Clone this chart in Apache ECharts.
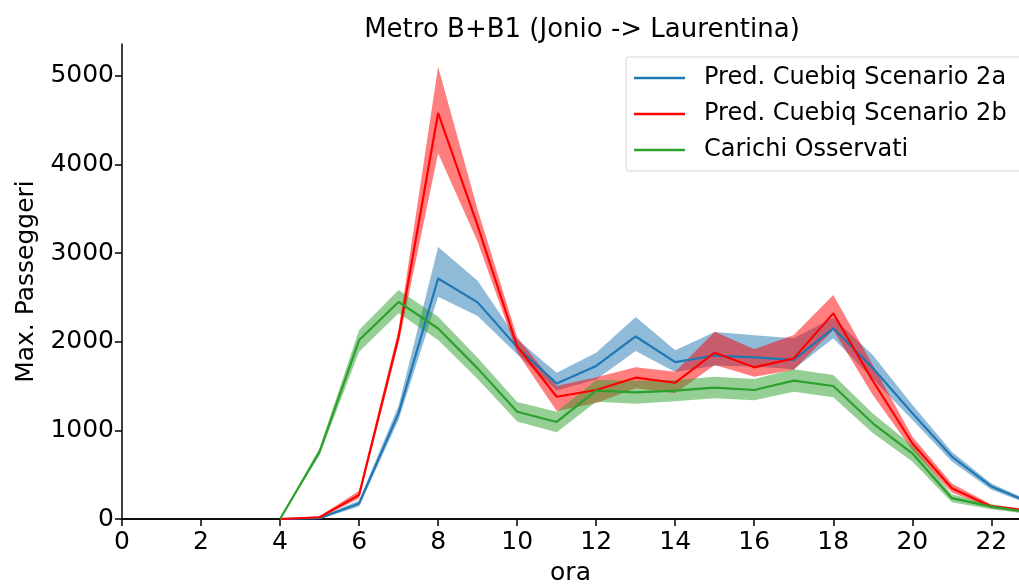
<!DOCTYPE html>
<html>
<head>
<meta charset="utf-8">
<script src="https://cdn.jsdelivr.net/npm/echarts@6/dist/echarts.min.js"></script>
<style>
  html, body { margin: 0; padding: 0; background: #fff; }
  #chart { width: 1019px; height: 584px; }
</style>
</head>
<body>
<div id="chart"></div>
<script>
const hours = [4, 5, 6, 7, 8, 9, 10, 11, 12, 13, 14, 15, 16, 17, 18, 19, 20, 21, 22, 23];

const blueMean = [0, 10, 175, 1195, 2715, 2445, 1940, 1528, 1727, 2060, 1770, 1845, 1825, 1795, 2152, 1705, 1195, 705, 368, 180];
const blueLow = [0, 0, 140, 1120, 2509, 2290, 1860, 1450, 1575, 1895, 1660, 1730, 1720, 1690, 2040, 1580, 1120, 650, 330, 160];
const blueHigh = [0, 20, 210, 1280, 3070, 2690, 2030, 1650, 1875, 2280, 1905, 2110, 2075, 2040, 2270, 1850, 1290, 760, 400, 200];

const redMean = [0, 20, 271, 2060, 4582, 3310, 1950, 1380, 1456, 1595, 1538, 1877, 1712, 1813, 2321, 1560, 855, 348, 142, 90];
const redLow = [0, 10, 230, 1980, 4128, 3130, 1880, 1220, 1310, 1475, 1418, 1738, 1606, 1682, 2133, 1400, 780, 300, 120, 75];
const redHigh = [0, 30, 320, 2140, 5105, 3490, 2050, 1500, 1600, 1712, 1663, 2114, 1915, 2077, 2528, 1738, 930, 400, 165, 105];

const greenMean = [0, 760, 2020, 2450, 2150, 1700, 1211, 1095, 1448, 1430, 1448, 1482, 1456, 1561, 1501, 1080, 741, 235, 139, 70];
const greenLow = [0, 720, 1888, 2322, 2020, 1580, 1100, 980, 1324, 1300, 1330, 1362, 1340, 1437, 1373, 970, 650, 190, 110, 55];
const greenHigh = [0, 800, 2133, 2585, 2283, 1820, 1320, 1210, 1569, 1560, 1570, 1606, 1580, 1690, 1625, 1190, 830, 280, 165, 90];

const xTicks = [0, 2, 4, 6, 8, 10, 12, 14, 16, 18, 20, 22];
const yTicks = [0, 1000, 2000, 3000, 4000, 5000];

const names = ["Pred. Cuebiq Scenario 2a", "Pred. Cuebiq Scenario 2b", "Carichi Osservati"];
const colors = ["#1f77b4", "#ff0000", "#2ca02c"];
const FONT = "DejaVu Sans";

const chart = echarts.init(document.getElementById("chart"), null, { renderer: "canvas" });

function bandSeries(low, high, color) {
  return {
    type: "custom",
    silent: true,
    clip: true,
    data: hours.map((h, i) => [h, low[i], high[i]]),
    encode: { x: 0, y: [1, 2] },
    renderItem: (params, api) => {
      if (params.dataIndex !== 0) {
        return null;
      }
      const top = hours.map((h, i) => api.coord([h, high[i]]));
      const bottom = hours.map((h, i) => api.coord([h, low[i]])).reverse();
      return {
        type: "polygon",
        shape: { points: top.concat(bottom) },
        style: { fill: color, opacity: 0.5 },
      };
    },
  };
}

function lineSeries(name, mean, color) {
  return {
    name: name,
    type: "line",
    data: hours.map((h, i) => [h, mean[i]]),
    showSymbol: false,
    clip: true,
    lineStyle: { color: color, width: 2.2 },
    itemStyle: { color: color },
  };
}

chart.setOption({
  animation: false,
  title: {
    text: "Metro B+B1 (Jonio -> Laurentina)",
    left: 577,
    top: 12,
    textAlign: "center",
    textStyle: { fontFamily: FONT, fontSize: 26, fontWeight: "normal", color: "#000" },
  },
  legend: {
    orient: "vertical",
    left: 626,
    top: 57,
    data: names,
    icon: "rect",
    itemWidth: 51,
    itemHeight: 2.5,
    itemGap: 12,
    padding: [9, 30, 9, 8],
    backgroundColor: "#fff",
    borderColor: "#d6d6d6",
    borderWidth: 1,
    borderRadius: 3,
    textStyle: { fontFamily: FONT, fontSize: 24, color: "#000", padding: [0, 0, 0, 14] },
  },
  grid: { left: 122, top: 44, right: 0, bottom: 65, containLabel: false, outerBoundsMode: "none" },
  xAxis: [
    {
      type: "value",
      min: 0,
      max: 22.7,
      interval: 2,
      name: "ora",
      nameLocation: "middle",
      nameGap: 42,
      nameTextStyle: { fontFamily: FONT, fontSize: 25, color: "#000" },
      axisLine: { onZero: false, lineStyle: { color: "#000", width: 1.5 } },
      axisTick: { length: 7, lineStyle: { color: "#000", width: 1.5 } },
      axisLabel: {
        fontFamily: FONT, fontSize: 25, color: "#000", margin: 11,
        showMaxLabel: false,
        formatter: (v) => (xTicks.includes(v) ? String(v) : ""),
      },
      splitLine: { show: false },
    },
    {
      type: "value",
      position: "top",
      min: 0,
      max: 22.7,
      axisLine: { show: true, lineStyle: { color: "#000", width: 1.5 } },
      axisTick: { show: false },
      axisLabel: { show: false },
      splitLine: { show: false },
    },
  ],
  yAxis: {
    type: "value",
    min: 0,
    max: 5361,
    interval: 1000,
    name: "Max. Passeggeri",
    nameLocation: "middle",
    nameGap: 79,
    nameTextStyle: { fontFamily: FONT, fontSize: 25, color: "#000" },
    axisLine: { show: true, lineStyle: { color: "#000", width: 1.5 } },
    axisTick: { show: true, length: 7, lineStyle: { color: "#000", width: 1.5 } },
    axisLabel: {
      fontFamily: FONT, fontSize: 25, color: "#000", margin: 8,
      showMaxLabel: false,
      formatter: (v) => (yTicks.includes(v) ? String(v) : ""),
    },
    splitLine: { show: false },
  },
  series: [
    lineSeries(names[0], blueMean, colors[0]),
    bandSeries(blueLow, blueHigh, colors[0]),
    lineSeries(names[1], redMean, colors[1]),
    bandSeries(redLow, redHigh, colors[1]),
    lineSeries(names[2], greenMean, colors[2]),
    bandSeries(greenLow, greenHigh, colors[2]),
  ],
});
</script>
</body>
</html>
